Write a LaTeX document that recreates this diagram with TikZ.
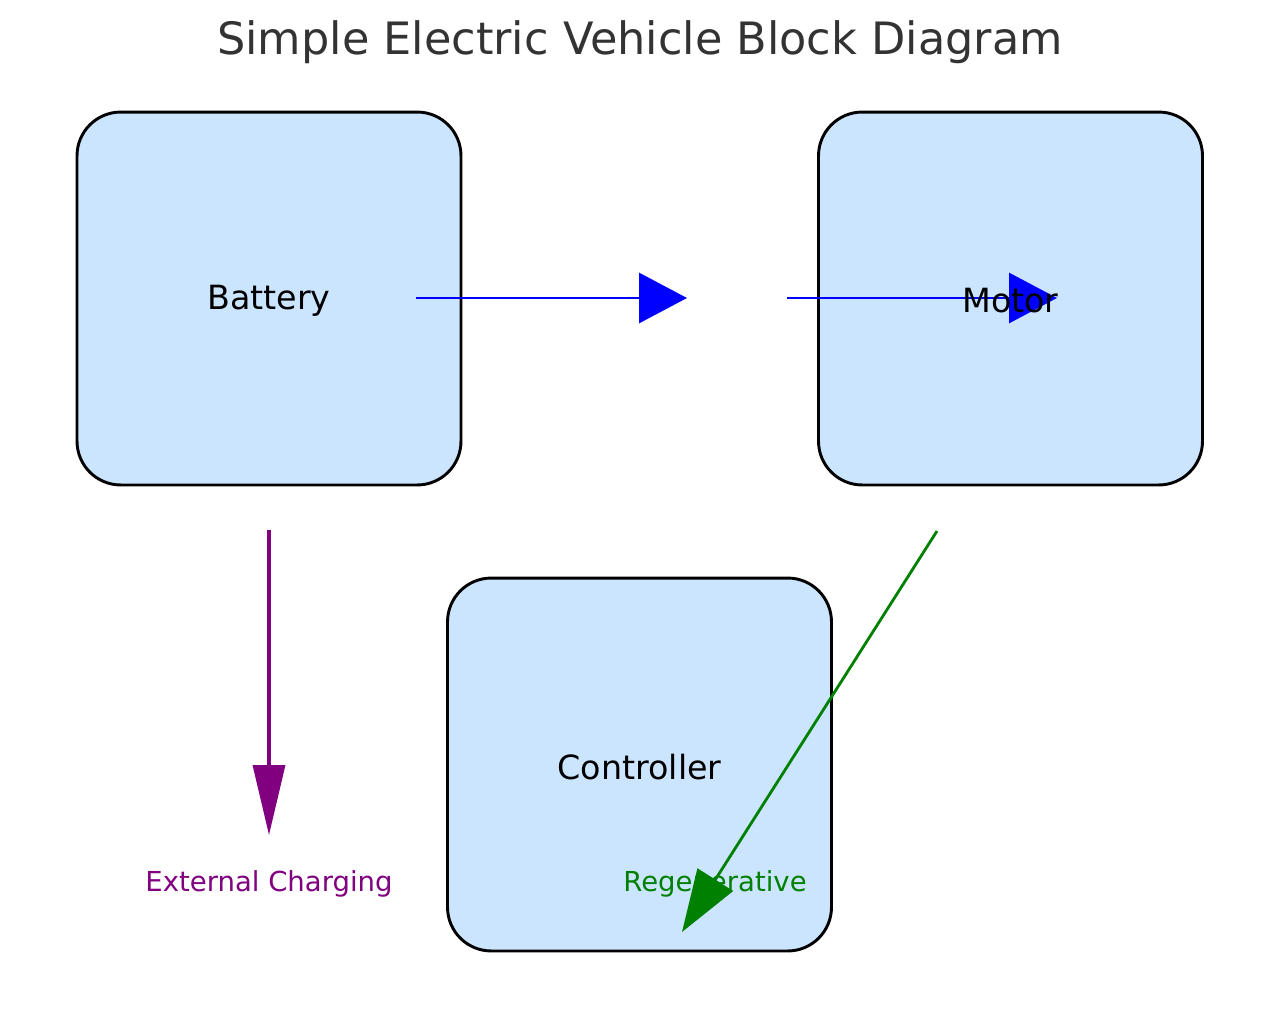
\documentclass[tikz,border=0pt]{standalone}
\usepackage{fontspec}
\setmainfont{DejaVu Sans}
\usetikzlibrary{arrows.meta, positioning}
\definecolor{boxfill}{RGB}{204,229,255}
\definecolor{titlegray}{RGB}{51,51,51}
\definecolor{chargepurple}{RGB}{128,0,128}
\definecolor{regengreen}{RGB}{0,128,0}

\begin{document}
\begin{tikzpicture}[x=0.48pt, y=-0.48pt,
    block/.style={draw=black, line width=1.4pt, fill=boxfill, rounded corners=21pt,
        minimum width=184.3pt, minimum height=179pt, inner sep=0pt},
    blocklabel/.style={font=\fontsize{16}{19}\selectfont},
    powerflow/.style={draw=blue, line width=1.4pt, -{Triangle[length=23pt, width=24pt]}},
    chargeflow/.style={draw=chargepurple, line width=1.5pt, -{Triangle[length=33.6pt, width=15.4pt]}},
    regenflow/.style={draw=regengreen, line width=1.35pt, -{Triangle[length=29.8pt, width=20pt]}},
    flowlabel/.style={font=\fontsize{13.2}{16}\selectfont}]
    \useasboundingbox (0,0) rectangle (1280,1014);
    \node[font=\fontsize{21.4}{25}\selectfont, text=titlegray] (title) at (640,42) {Simple Electric Vehicle Block Diagram};

    \node[block] (battery) at (269,298.5) {};
    \node[block] (motor) at (1010.5,298.5) {};
    \node[block] (controller) at (639.5,764.5) {};

    \coordinate (battery out) at (416,298);
    \coordinate (controller in) at (687,298);
    \coordinate (controller out) at (787,298);
    \coordinate (motor in) at (1057,298);
    \coordinate (charge start) at (269,530);
    \coordinate (charge end) at (269,835);
    \coordinate (regen start) at (937,531);
    \coordinate (regen end) at (682,932);

    \draw[powerflow] (battery out) -- (controller in);
    \draw[powerflow] (controller out) -- (motor in);
    \draw[chargeflow] (charge start) -- (charge end);
    \draw[regenflow] (regen start) -- (regen end);

    \node[blocklabel] (battery text) at ([yshift=-1pt]battery.center) {Battery};
    \node[blocklabel] (motor text) at ([yshift=-1pt]motor.center) {Motor};
    \node[blocklabel] (controller text) at ([yshift=-1pt]controller.center) {Controller};
    \node[flowlabel, text=chargepurple] (charge text) at (269,884) {External Charging};
    \node[flowlabel, text=regengreen] (regen text) at (715,884) {Regenerative};
\end{tikzpicture}
\end{document}
